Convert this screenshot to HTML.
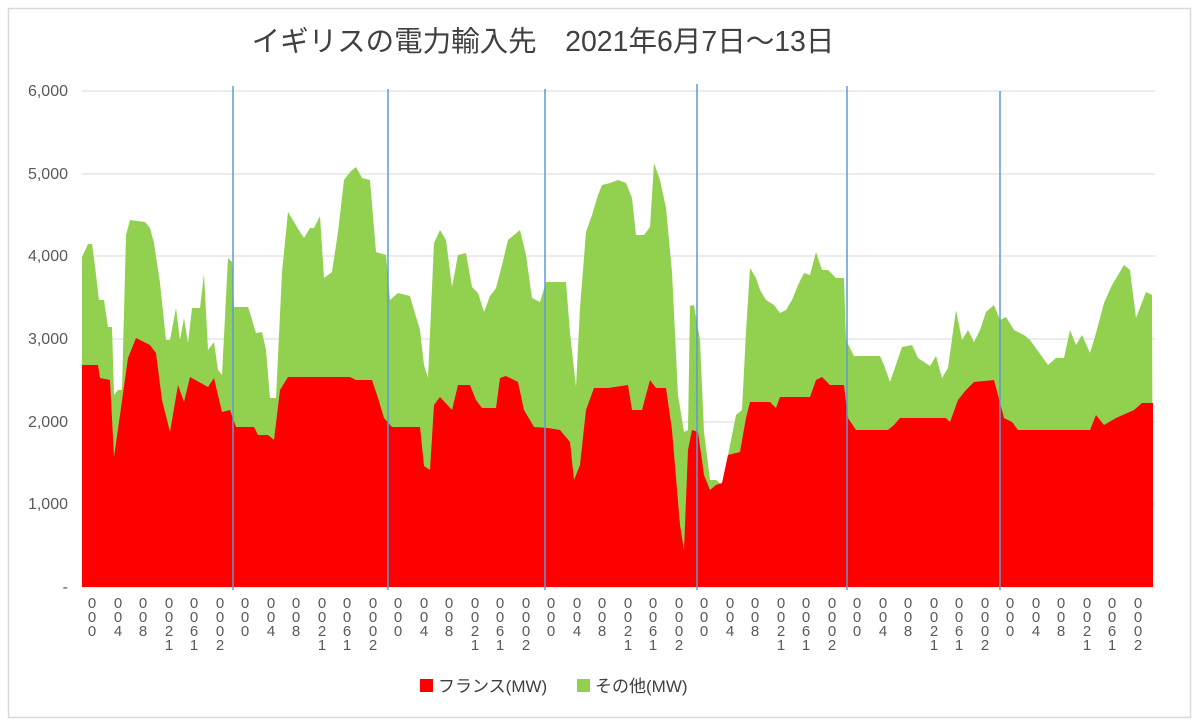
<!DOCTYPE html>
<html><head><meta charset="utf-8"><style>
html,body{margin:0;padding:0;background:#fff;}
svg{display:block;font-family:"Liberation Sans","Noto Sans CJK JP",sans-serif;}
</style></head><body>
<svg width="1200" height="728" viewBox="0 0 1200 728" xmlns="http://www.w3.org/2000/svg">
<rect x="0" y="0" width="1200" height="728" fill="#fff"/>
<rect x="8.5" y="8.5" width="1182" height="709" fill="none" stroke="#d9d9d9" stroke-width="1.5"/>
<text x="543" y="51" font-size="28.5" fill="#404040" text-anchor="middle" font-family="'Liberation Sans','Noto Sans CJK JP',sans-serif">イギリスの電力輸入先　2021年6月7日～13日</text>
<g stroke="#d9d9d9" stroke-width="1">
<line x1="82" x2="1155" y1="91" y2="91"/><line x1="82" x2="1155" y1="174" y2="174"/><line x1="82" x2="1155" y1="256" y2="256"/><line x1="82" x2="1155" y1="339" y2="339"/><line x1="82" x2="1155" y1="422" y2="422"/><line x1="82" x2="1155" y1="504" y2="504"/><line x1="82" x2="1155" y1="587" y2="587"/>
</g>
<g font-size="16" fill="#595959" text-anchor="end">
<text x="68" y="96">6,000</text><text x="68" y="179">5,000</text><text x="68" y="261">4,000</text><text x="68" y="344">3,000</text><text x="68" y="427">2,000</text><text x="68" y="509">1,000</text><text x="68" y="592">-</text>
</g>
<polygon fill="#92D050" points="82,587 82,257 88,244 92,244 95,266 99,300 104,300 108,327 112,327 114,395 118,390 122,390 126,235 130,220 145,222 150,228 154,243 160,283 166,340 170,340 176,308 180,340 184,318 188,343 192,308 200,308 204,274 208,350 214,342 218,370 222,375 228,258 232,262 234,307 248,307 250,313 256,333 262,332 266,350 270,398 276,398 282,272 288,212 294,222 300,232 304,238 310,228 314,228 320,216 324,278 332,272 338,232 344,180 350,172 356,167 362,178 370,180 376,252 386,255 390,300 398,293 410,296 414,310 420,330 424,365 428,378 434,243 440,230 446,240 452,287 458,255 466,253 472,287 478,293 484,312 490,296 496,288 502,265 508,240 514,235 520,230 526,255 532,298 540,302 546,282 566,282 570,333 576,387 580,308 586,232 592,215 598,195 602,185 610,183 618,180 626,183 632,198 636,235 644,235 650,227 654,163 660,180 666,208 672,272 678,395 684,432 688,430 690,306 694,305 700,340 704,432 710,480 716,480 722,485 736,415 742,410 746,332 750,268 756,278 760,290 766,300 774,305 780,313 786,310 792,300 798,285 804,273 810,275 816,252 822,270 828,270 836,278 844,278 846,340 854,356 880,356 884,365 890,382 902,347 912,345 918,358 930,366 936,356 942,378 948,368 956,310 962,340 968,330 974,342 980,330 986,312 994,305 1000,320 1006,317 1014,330 1024,335 1030,340 1048,365 1056,358 1064,358 1070,330 1076,345 1082,335 1090,353 1096,333 1104,303 1112,285 1124,265 1130,270 1136,318 1146,292 1152,295 1153,587"/>
<polygon fill="#FF0000" points="82,587 82,365 98,365 100,378 110,380 114,457 120,415 128,358 136,338 150,345 156,353 162,400 170,432 178,385 184,402 190,377 208,387 214,378 222,412 230,410 236,427 254,427 258,435 268,435 274,440 280,390 288,377 350,377 356,380 372,380 378,398 384,418 392,427 400,427 420,427 424,466 430,470 434,405 440,397 452,410 458,385 470,385 476,400 482,408 496,408 500,378 506,376 518,382 524,410 534,427 548,428 560,430 570,442 574,480 580,465 586,410 594,388 608,388 628,385 632,410 642,410 650,380 656,388 666,388 672,430 680,525 684,550 688,450 692,430 698,432 704,475 710,490 716,485 722,483 728,455 740,452 746,418 750,402 770,402 776,408 780,397 810,397 816,380 822,377 830,385 844,385 848,418 856,430 888,430 894,425 900,418 946,418 950,422 958,400 966,390 974,382 994,380 998,395 1004,418 1012,422 1018,430 1090,430 1096,415 1104,425 1116,418 1134,410 1142,403 1153,403 1153,587"/>
<g stroke="#5B9BD5" stroke-width="1.5">
<line x1="233" x2="233" y1="86" y2="590"/><line x1="388" x2="388" y1="89" y2="590"/><line x1="545" x2="545" y1="89" y2="590"/><line x1="697" x2="697" y1="84" y2="590"/><line x1="847" x2="847" y1="86" y2="590"/><line x1="1000" x2="1000" y1="91" y2="590"/>
</g>
<g font-size="15" fill="#595959" text-anchor="middle">
<text x="92" y="608">0<tspan x="92" dy="14">0</tspan><tspan x="92" dy="14">0</tspan></text>
<text x="118" y="608">0<tspan x="118" dy="14">0</tspan><tspan x="118" dy="14">4</tspan></text>
<text x="143" y="608">0<tspan x="143" dy="14">0</tspan><tspan x="143" dy="14">8</tspan></text>
<text x="169" y="608">0<tspan x="169" dy="14">0</tspan><tspan x="169" dy="14">2</tspan><tspan x="169" dy="14">1</tspan></text>
<text x="194" y="608">0<tspan x="194" dy="14">0</tspan><tspan x="194" dy="14">6</tspan><tspan x="194" dy="14">1</tspan></text>
<text x="220" y="608">0<tspan x="220" dy="14">0</tspan><tspan x="220" dy="14">0</tspan><tspan x="220" dy="14">2</tspan></text>
<text x="245" y="608">0<tspan x="245" dy="14">0</tspan><tspan x="245" dy="14">0</tspan></text>
<text x="271" y="608">0<tspan x="271" dy="14">0</tspan><tspan x="271" dy="14">4</tspan></text>
<text x="296" y="608">0<tspan x="296" dy="14">0</tspan><tspan x="296" dy="14">8</tspan></text>
<text x="322" y="608">0<tspan x="322" dy="14">0</tspan><tspan x="322" dy="14">2</tspan><tspan x="322" dy="14">1</tspan></text>
<text x="347" y="608">0<tspan x="347" dy="14">0</tspan><tspan x="347" dy="14">6</tspan><tspan x="347" dy="14">1</tspan></text>
<text x="373" y="608">0<tspan x="373" dy="14">0</tspan><tspan x="373" dy="14">0</tspan><tspan x="373" dy="14">2</tspan></text>
<text x="398" y="608">0<tspan x="398" dy="14">0</tspan><tspan x="398" dy="14">0</tspan></text>
<text x="424" y="608">0<tspan x="424" dy="14">0</tspan><tspan x="424" dy="14">4</tspan></text>
<text x="449" y="608">0<tspan x="449" dy="14">0</tspan><tspan x="449" dy="14">8</tspan></text>
<text x="475" y="608">0<tspan x="475" dy="14">0</tspan><tspan x="475" dy="14">2</tspan><tspan x="475" dy="14">1</tspan></text>
<text x="500" y="608">0<tspan x="500" dy="14">0</tspan><tspan x="500" dy="14">6</tspan><tspan x="500" dy="14">1</tspan></text>
<text x="526" y="608">0<tspan x="526" dy="14">0</tspan><tspan x="526" dy="14">0</tspan><tspan x="526" dy="14">2</tspan></text>
<text x="551" y="608">0<tspan x="551" dy="14">0</tspan><tspan x="551" dy="14">0</tspan></text>
<text x="577" y="608">0<tspan x="577" dy="14">0</tspan><tspan x="577" dy="14">4</tspan></text>
<text x="602" y="608">0<tspan x="602" dy="14">0</tspan><tspan x="602" dy="14">8</tspan></text>
<text x="628" y="608">0<tspan x="628" dy="14">0</tspan><tspan x="628" dy="14">2</tspan><tspan x="628" dy="14">1</tspan></text>
<text x="653" y="608">0<tspan x="653" dy="14">0</tspan><tspan x="653" dy="14">6</tspan><tspan x="653" dy="14">1</tspan></text>
<text x="679" y="608">0<tspan x="679" dy="14">0</tspan><tspan x="679" dy="14">0</tspan><tspan x="679" dy="14">2</tspan></text>
<text x="704" y="608">0<tspan x="704" dy="14">0</tspan><tspan x="704" dy="14">0</tspan></text>
<text x="730" y="608">0<tspan x="730" dy="14">0</tspan><tspan x="730" dy="14">4</tspan></text>
<text x="755" y="608">0<tspan x="755" dy="14">0</tspan><tspan x="755" dy="14">8</tspan></text>
<text x="781" y="608">0<tspan x="781" dy="14">0</tspan><tspan x="781" dy="14">2</tspan><tspan x="781" dy="14">1</tspan></text>
<text x="806" y="608">0<tspan x="806" dy="14">0</tspan><tspan x="806" dy="14">6</tspan><tspan x="806" dy="14">1</tspan></text>
<text x="832" y="608">0<tspan x="832" dy="14">0</tspan><tspan x="832" dy="14">0</tspan><tspan x="832" dy="14">2</tspan></text>
<text x="857" y="608">0<tspan x="857" dy="14">0</tspan><tspan x="857" dy="14">0</tspan></text>
<text x="883" y="608">0<tspan x="883" dy="14">0</tspan><tspan x="883" dy="14">4</tspan></text>
<text x="908" y="608">0<tspan x="908" dy="14">0</tspan><tspan x="908" dy="14">8</tspan></text>
<text x="934" y="608">0<tspan x="934" dy="14">0</tspan><tspan x="934" dy="14">2</tspan><tspan x="934" dy="14">1</tspan></text>
<text x="959" y="608">0<tspan x="959" dy="14">0</tspan><tspan x="959" dy="14">6</tspan><tspan x="959" dy="14">1</tspan></text>
<text x="985" y="608">0<tspan x="985" dy="14">0</tspan><tspan x="985" dy="14">0</tspan><tspan x="985" dy="14">2</tspan></text>
<text x="1010" y="608">0<tspan x="1010" dy="14">0</tspan><tspan x="1010" dy="14">0</tspan></text>
<text x="1036" y="608">0<tspan x="1036" dy="14">0</tspan><tspan x="1036" dy="14">4</tspan></text>
<text x="1061" y="608">0<tspan x="1061" dy="14">0</tspan><tspan x="1061" dy="14">8</tspan></text>
<text x="1087" y="608">0<tspan x="1087" dy="14">0</tspan><tspan x="1087" dy="14">2</tspan><tspan x="1087" dy="14">1</tspan></text>
<text x="1112" y="608">0<tspan x="1112" dy="14">0</tspan><tspan x="1112" dy="14">6</tspan><tspan x="1112" dy="14">1</tspan></text>
<text x="1138" y="608">0<tspan x="1138" dy="14">0</tspan><tspan x="1138" dy="14">0</tspan><tspan x="1138" dy="14">2</tspan></text>
</g>
<rect x="420" y="679" width="13" height="13" fill="#FF0000"/>
<text x="438" y="692" font-size="17" fill="#404040">フランス(MW)</text>
<rect x="577" y="679" width="13" height="13" fill="#92D050"/>
<text x="595" y="692" font-size="17" fill="#404040">その他(MW)</text>
</svg>
</body></html>
